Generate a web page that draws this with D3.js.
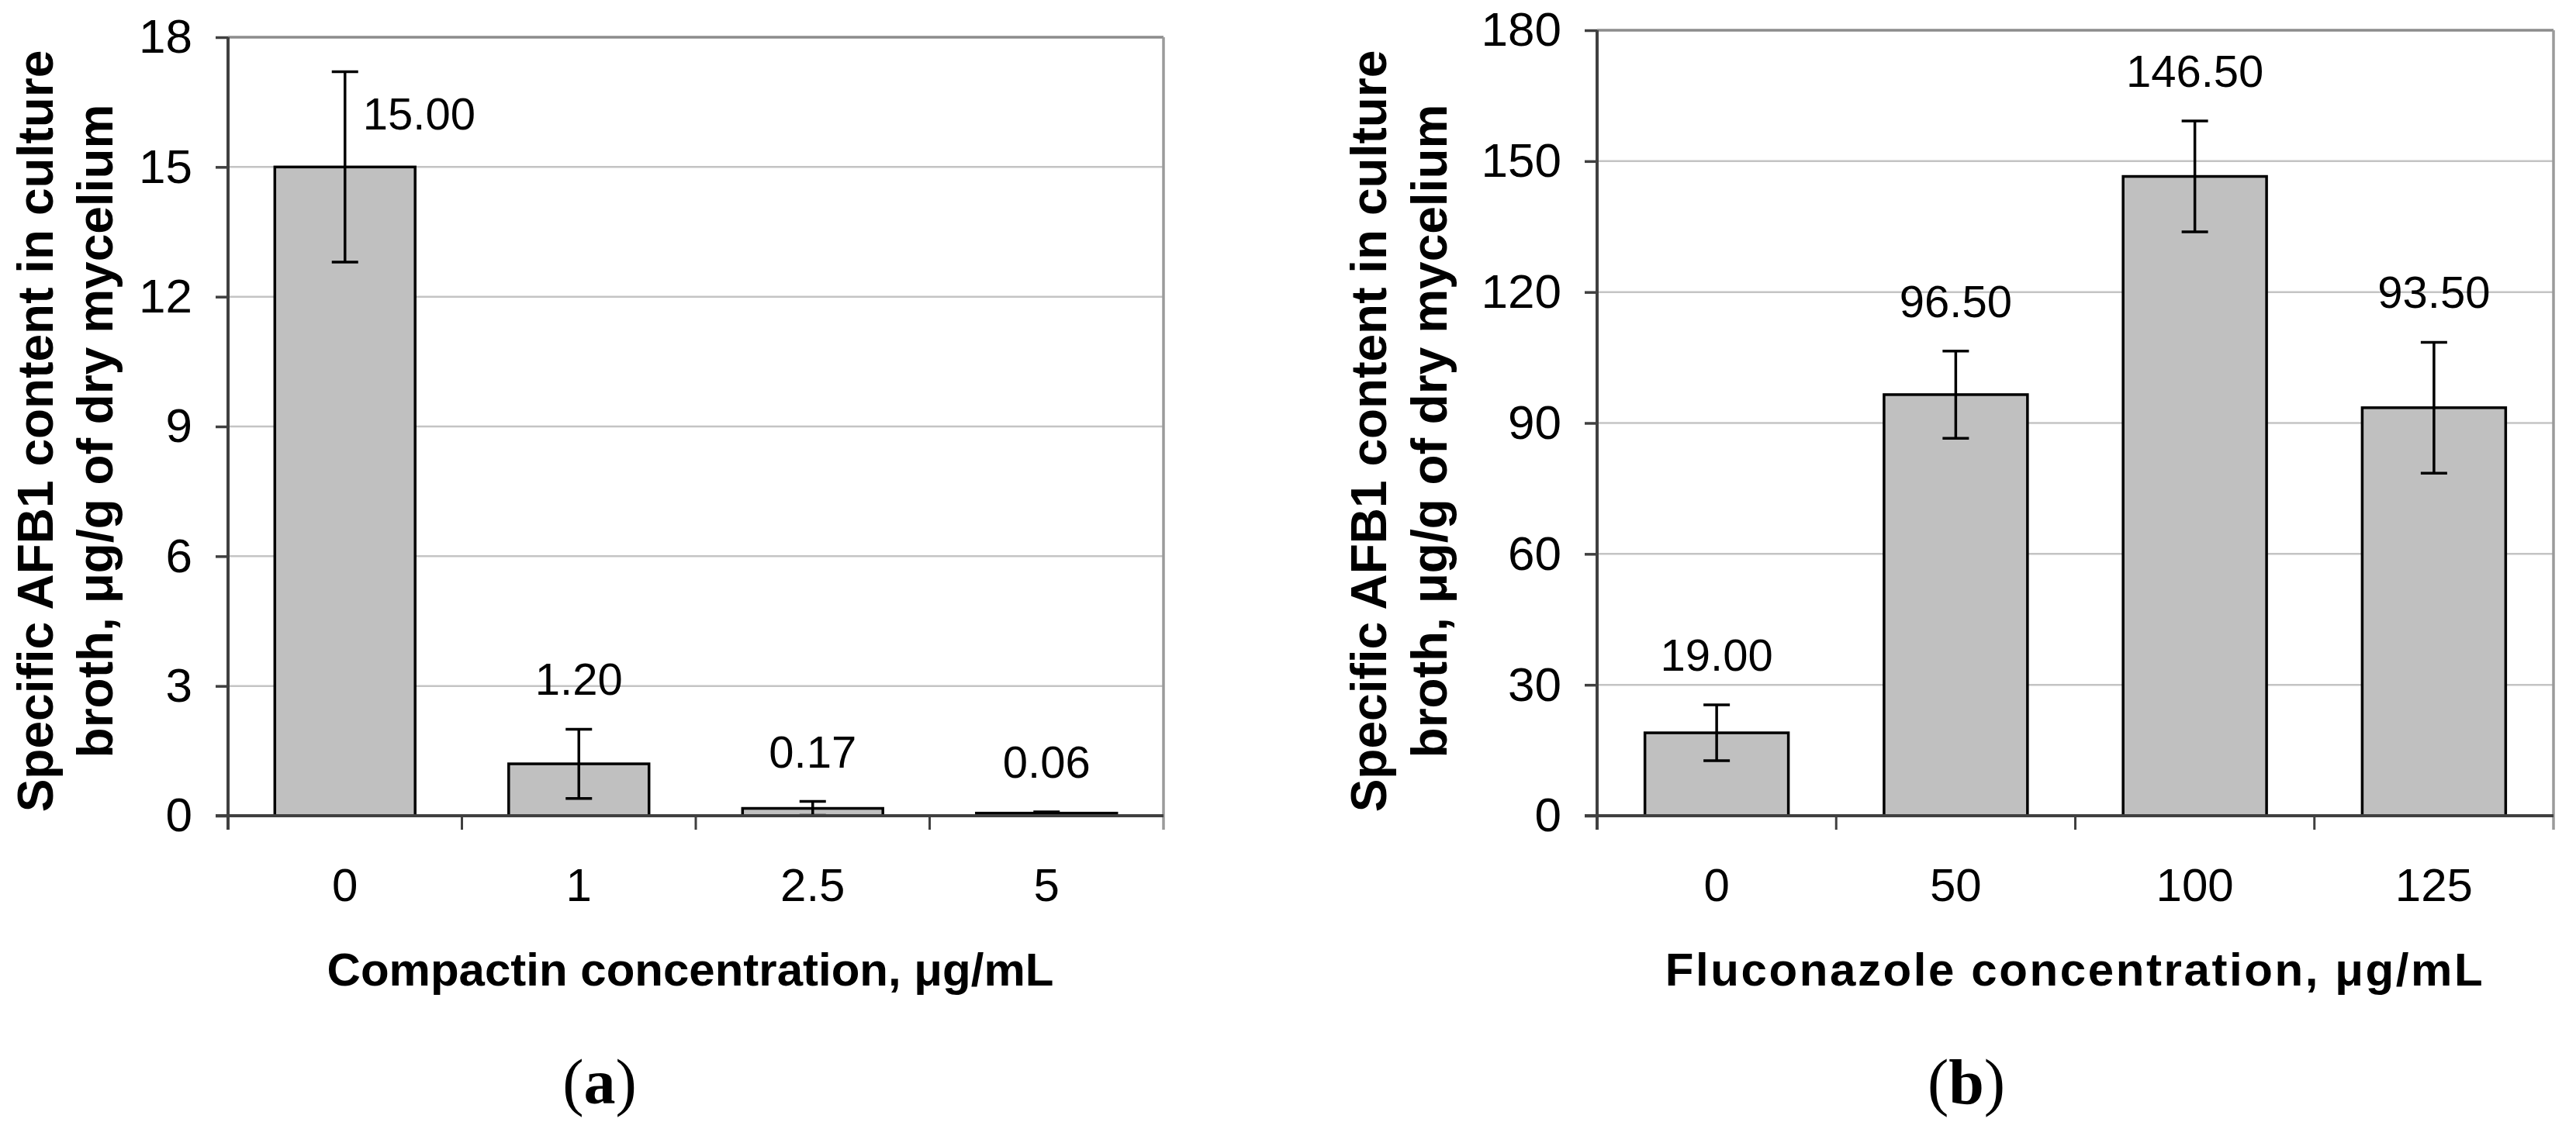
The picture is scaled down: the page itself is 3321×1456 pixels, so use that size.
<!DOCTYPE html>
<html>
<head>
<meta charset="utf-8">
<script src="https://cdn.jsdelivr.net/npm/d3@7"></script>
<style>
  html, body { margin: 0; padding: 0; background: #fff; }
  svg { display: block; }
</style>
</head>
<body>
<svg id="chart" width="3321" height="1456"></svg>
<script>
// ---- data ----
const catsA = ["0", "1", "2.5", "5"];
const valsA = [15.00, 1.20, 0.17, 0.06];
const errsA = [2.2, 0.8, 0.16, 0.03];
const yTicksA = [0, 3, 6, 9, 12, 15, 18];
const xTitleA = "Compactin concentration, μg/mL";
const panelLabelA = "a";

const catsB = ["0", "50", "100", "125"];
const valsB = [19.00, 96.50, 146.50, 93.50];
const errsB = [6.4, 10, 12.7, 15];
const yTicksB = [0, 30, 60, 90, 120, 150, 180];
const xTitleB = "Fluconazole concentration, μg/mL";
const panelLabelB = "b";

const yTitleLines = ["Specific AFB1 content in culture", "broth, μg/g of dry mycelium"];

// ---- drawing ----
const svg = d3.select("#chart");
svg.append("rect").attr("width", 3321).attr("height", 1456).attr("fill", "#fff");
const SANS = "'Liberation Sans', Arial, Helvetica, sans-serif";
const fmt = d3.format(".2f");

function panel(cfg) {
  const g = svg.append("g");
  const x = d3.scaleBand().domain(cfg.cats).range([cfg.x0, cfg.x1])
    .paddingInner(0.4).paddingOuter(0.2);
  const yMax = d3.max(cfg.ticks);
  const y = d3.scaleLinear().domain([0, yMax]).range([cfg.yBot, cfg.yTop]);
  const tickLen = 18;

  // gridlines
  g.selectAll("line.grid").data(cfg.ticks.filter(t => t > 0 && t < yMax)).join("line")
    .attr("x1", cfg.x0).attr("x2", cfg.x1)
    .attr("y1", d => y(d)).attr("y2", d => y(d))
    .attr("stroke", "#c4c4c4").attr("stroke-width", 2.5);
  // top and right border
  g.append("line").attr("x1", cfg.x0).attr("x2", cfg.x1)
    .attr("y1", y(yMax)).attr("y2", y(yMax))
    .attr("stroke", "#8c8c8c").attr("stroke-width", 3.5);
  g.append("line").attr("x1", cfg.x1).attr("x2", cfg.x1)
    .attr("y1", y(yMax)).attr("y2", cfg.yBot + tickLen)
    .attr("stroke", "#9a9a9a").attr("stroke-width", 3.5);

  // bars
  g.selectAll("rect.bar").data(cfg.vals).join("rect")
    .attr("x", (d, i) => x(cfg.cats[i]))
    .attr("width", x.bandwidth())
    .attr("y", d => y(d))
    .attr("height", d => y(0) - y(d))
    .attr("fill", "#c0c0c0").attr("stroke", "#000").attr("stroke-width", 3.5);

  // error bars
  const cap = 17;
  cfg.vals.forEach((v, i) => {
    const cx = x(cfg.cats[i]) + x.bandwidth() / 2;
    const e = cfg.errs[i];
    const eg = g.append("g").attr("stroke", "#000").attr("stroke-width", 3.5);
    eg.append("line").attr("x1", cx).attr("x2", cx).attr("y1", y(v + e)).attr("y2", y(Math.max(0, v - e)));
    eg.append("line").attr("x1", cx - cap).attr("x2", cx + cap).attr("y1", y(v + e)).attr("y2", y(v + e));
    eg.append("line").attr("x1", cx - cap).attr("x2", cx + cap).attr("y1", y(Math.max(0, v - e))).attr("y2", y(Math.max(0, v - e)));

    // value label
    let lx = cx, ly = y(v + e) - 44, anchor = "middle";
    if (ly - 42 < cfg.yTop) { lx = cx + 23; ly = y(v) - 48; anchor = "start"; }
    g.append("text").attr("x", lx).attr("y", ly).attr("text-anchor", anchor)
      .attr("font-family", SANS).attr("font-size", 58).attr("fill", "#000")
      .text(fmt(v));
  });

  // y axis
  const yAxis = g.append("g").attr("transform", `translate(${cfg.x0},0)`)
    .call(d3.axisLeft(y).tickValues(cfg.ticks).tickSize(16).tickPadding(30).tickSizeOuter(0));
  yAxis.select(".domain").remove();
  yAxis.selectAll(".tick line").attr("stroke", "#404040").attr("stroke-width", 3.5);
  yAxis.selectAll(".tick text").attr("font-family", SANS).attr("font-size", 62).attr("fill", "#000");
  g.append("line").attr("x1", cfg.x0).attr("x2", cfg.x0)
    .attr("y1", cfg.yTop).attr("y2", cfg.yBot + tickLen)
    .attr("stroke", "#404040").attr("stroke-width", 4);

  // x axis
  const xAxis = g.append("g").attr("transform", `translate(0,${cfg.yBot})`)
    .call(d3.axisBottom(x).tickSize(0).tickPadding(0));
  xAxis.select(".domain").remove();
  xAxis.selectAll(".tick text").attr("font-family", SANS).attr("font-size", 60)
    .attr("fill", "#000").attr("dy", 0).attr("y", 110);
  g.append("line").attr("x1", cfg.x0 - 16).attr("x2", cfg.x1)
    .attr("y1", cfg.yBot).attr("y2", cfg.yBot)
    .attr("stroke", "#404040").attr("stroke-width", 4);
  d3.range(1, cfg.cats.length).forEach(i => {
    const bx = cfg.x0 + i * x.step();
    g.append("line").attr("x1", bx).attr("x2", bx)
      .attr("y1", cfg.yBot).attr("y2", cfg.yBot + tickLen)
      .attr("stroke", "#404040").attr("stroke-width", 3);
  });

  // x title
  g.append("text").attr("x", cfg.xTitleX).attr("y", 1271)
    .attr("text-anchor", "middle").attr("font-family", SANS).attr("font-weight", "bold")
    .attr("font-size", 60).attr("letter-spacing", cfg.xTitleSpacing).attr("fill", "#000")
    .text(cfg.xTitle);

  // y title
  yTitleLines.forEach((line, i) => {
    g.append("text")
      .attr("transform", `translate(${cfg.yTitleBase[i]},556) rotate(-90)`)
      .attr("text-anchor", "middle").attr("font-family", SANS).attr("font-weight", "bold")
      .attr("font-size", 64).attr("fill", "#000")
      .text(line);
  });

  // panel label
  const pl = g.append("text").attr("x", cfg.labelX).attr("y", 1423)
    .attr("text-anchor", "middle").attr("font-family", "'Liberation Serif', 'Times New Roman', serif")
    .attr("font-size", 82).attr("fill", "#000");
  pl.append("tspan").text("(");
  pl.append("tspan").attr("font-weight", "bold").text(cfg.label);
  pl.append("tspan").text(")");
}

panel({
  cats: catsA, vals: valsA, errs: errsA, ticks: yTicksA,
  x0: 294, x1: 1500, yTop: 48, yBot: 1052,
  xTitle: xTitleA, xTitleX: 890, xTitleSpacing: 0,
  yTitleBase: [68, 145], label: panelLabelA, labelX: 773
});
panel({
  cats: catsB, vals: valsB, errs: errsB, ticks: yTicksB,
  x0: 2059, x1: 3292, yTop: 39, yBot: 1052,
  xTitle: xTitleB, xTitleX: 2675, xTitleSpacing: 2.6,
  yTitleBase: [1787, 1865], label: panelLabelB, labelX: 2535
});
</script>
</body>
</html>
